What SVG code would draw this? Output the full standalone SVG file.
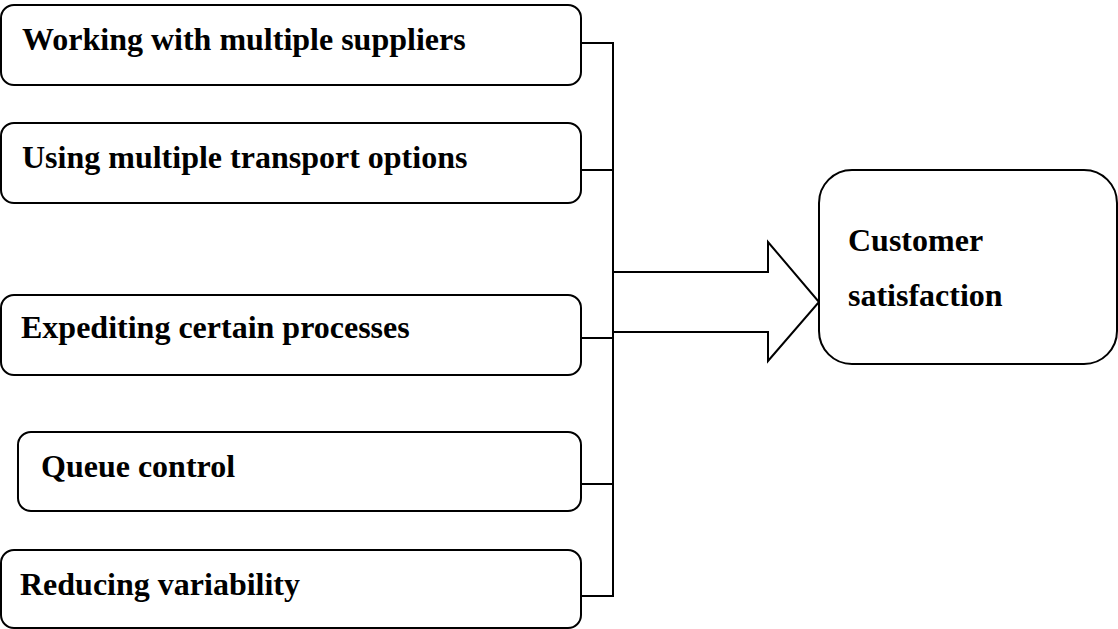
<svg xmlns="http://www.w3.org/2000/svg" width="1118" height="629" viewBox="0 0 1118 629">
<style>
.box{fill:#fff;stroke:#000;stroke-width:2}
.lbl{font-family:"Liberation Serif","Times New Roman",serif;font-weight:bold;font-size:32px;fill:#000}
.con{fill:none;stroke:#000;stroke-width:2}
</style>
<rect width="1118" height="629" fill="#fff"/>
<g id="connectors">
<line class="con" x1="613" y1="43" x2="613" y2="596"/>
<line class="con" x1="581" y1="43" x2="614" y2="43"/>
<line class="con" x1="581" y1="170" x2="613" y2="170"/>
<line class="con" x1="581" y1="338" x2="613" y2="338"/>
<line class="con" x1="581" y1="484" x2="613" y2="484"/>
<line class="con" x1="581" y1="596" x2="614" y2="596"/>
<polyline class="con" stroke-linejoin="miter" points="613,272 768,272 768,242 819,302 768,361 768,332 613,332"/>
</g>
<g id="n1"><rect class="box" x="1" y="5" width="580" height="80" rx="13"/><text class="lbl" x="22" y="50">Working with multiple suppliers</text></g>
<g id="n2"><rect class="box" x="1" y="123" width="580" height="80" rx="13"/><text class="lbl" x="22" y="168">Using multiple transport options</text></g>
<g id="n3"><rect class="box" x="1" y="295" width="580" height="80" rx="13"/><text class="lbl" x="21" y="338">Expediting certain processes</text></g>
<g id="n4"><rect class="box" x="18" y="432" width="563" height="79" rx="13"/><text class="lbl" x="41" y="477">Queue control</text></g>
<g id="n5"><rect class="box" x="1" y="550" width="580" height="78" rx="13"/><text class="lbl" x="20" y="595">Reducing variability</text></g>
<g id="n6"><rect class="box" x="819" y="170" width="298" height="194" rx="33"/><text class="lbl" x="848" y="251">Customer</text><text class="lbl" x="848" y="306">satisfaction</text></g>
</svg>
